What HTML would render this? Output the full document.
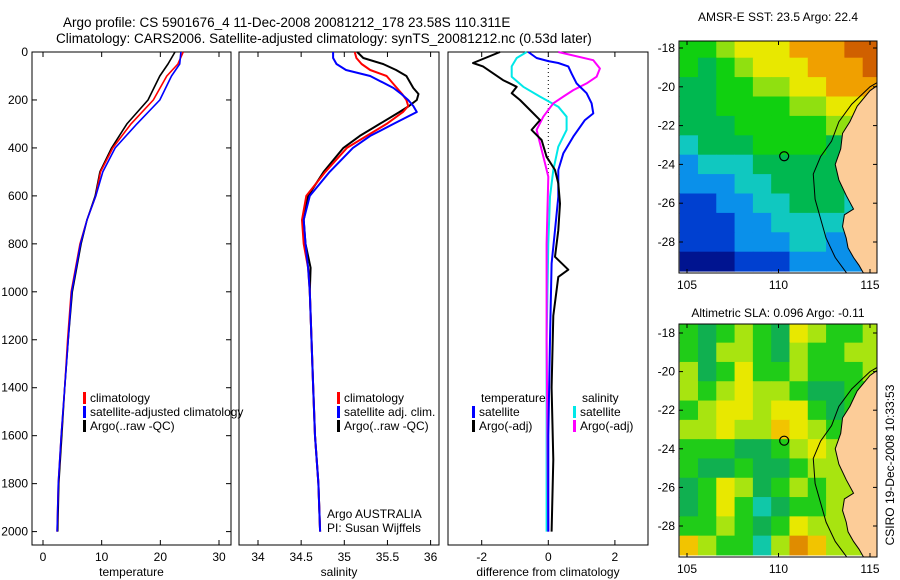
<!DOCTYPE html>
<html><head><meta charset="utf-8"><style>
body{margin:0;background:#fff;}
svg{display:block;font-family:"Liberation Sans","DejaVu Sans",sans-serif;}
text{fill:#000;}
</style></head><body>
<svg id="fig" width="900" height="580" viewBox="0 0 900 580" xmlns="http://www.w3.org/2000/svg">
<text x="63" y="27" font-size="13.5">Argo profile: CS 5901676_4 11-Dec-2008 20081212_178 23.58S 110.311E</text>
<text x="56" y="43" font-size="13.5">Climatology: CARS2006. Satellite-adjusted climatology: synTS_20081212.nc (0.53d later)</text>
<text x="778" y="21" font-size="12" text-anchor="middle">AMSR-E SST: 23.5 Argo: 22.4</text>
<text x="778" y="317" font-size="12" text-anchor="middle">Altimetric SLA: 0.096 Argo: -0.11</text>
<text transform="translate(894,465) rotate(-90)" font-size="12" text-anchor="middle">CSIRO 19-Dec-2008 10:33:53</text>
<g id="plots"></g>
</svg>
<script>
// ---- data ----
const tDepth=[0,50,100,200,300,400,500,600,700,800,1000,1200,1400,1600,1800,2000];
const tArgo=[22.5,21.3,19.9,17.9,14.3,11.7,9.7,8.9,7.5,6.5,5.0,4.3,3.7,3.2,2.7,2.5];
const tClim=[23.9,23.0,21.1,18.8,15.0,11.9,9.8,9.0,7.5,6.3,4.8,4.2,3.7,3.1,2.6,2.4];
const tSat=[23.5,23.3,21.9,19.9,16.0,12.3,10.2,9.0,7.5,6.4,4.9,4.3,3.7,3.1,2.6,2.4];
const sDepth=[0,25,50,75,100,150,175,200,225,250,300,350,400,500,600,700,800,900,1000,1400,1600,1800,2000];
const sArgo=[35.15,35.22,35.45,35.6,35.72,35.80,35.86,35.84,35.75,35.64,35.41,35.18,34.99,34.76,34.58,34.53,34.55,34.61,34.6,34.64,34.66,34.70,34.72];
const sClim=[35.12,35.14,35.2,35.3,35.49,35.61,35.67,35.72,35.74,35.68,35.49,35.26,35.03,34.78,34.56,34.51,34.53,34.58,34.6,34.64,34.66,34.70,34.72];
const sSat=[34.87,34.87,34.91,35.02,35.30,35.57,35.66,35.74,35.80,35.84,35.57,35.30,35.10,34.83,34.60,34.53,34.55,34.58,34.6,34.64,34.66,34.70,34.72];
const dBlackDepth=[0,46,60,117,145,172,200,242,284,325,367,437,492,548,632,743,854,908,938,1100,1400,1700,2000];
const dBlack=[-1.45,-2.26,-1.96,-1.36,-0.95,-1.1,-0.85,-0.55,-0.25,-0.5,-0.2,-0.05,0.2,0.3,0.35,0.3,0.2,0.6,0.3,0.15,0.1,0.15,0.1];
const dBlueDepth=[0,25,38,46,60,90,131,172,214,256,284,353,423,492,604,743,882,1200,1600,2000];
const dBlue=[-0.6,-0.35,0,0.3,0.6,0.7,0.85,1.15,1.3,1.35,1.1,0.75,0.45,0.3,0.3,0.2,0.1,0.05,0.0,0.0];
const dCyanDepth=[0,25,60,103,145,186,228,270,325,395,492,604,800,1200,2000];
const dCyan=[-0.65,-0.95,-1.1,-1.1,-0.75,-0.25,0.3,0.55,0.55,0.3,0.15,0.05,0,-0.05,-0.05];
const dMagDepth=[0,34,69,103,131,159,186,214,270,325,381,464,520,800,1200,2000];
const dMag=[0.3,1.35,1.55,1.45,1.15,0.75,0.45,0.15,-0.15,-0.35,-0.25,-0.1,0,-0.05,-0.05,0.0];
const depthTicks=[0,200,400,600,800,1000,1200,1400,1600,1800,2000];
const tempTicks=[0,10,20,30];
const salTicks=[34,34.5,35,35.5,36];
const diffTicks=[-2,0,2];
const latTicks=[-18,-20,-22,-24,-26,-28];
const lonTicks=[105,110,115];
const sstGrid=[
[5,5,6,7,7,7,8,8,8,9,9],[5,4,5,6,7,7,7,8,8,8,9],[4,4,5,5,6,6,7,7,8,8,8],[4,4,5,5,5,5,6,6,7,7,7],
[4,4,4,5,5,5,5,5,6,6,6],[3,4,4,4,5,5,5,5,4,4,4],[2,3,3,3,4,4,4,4,4,4,4],[2,2,2,3,3,4,4,4,4,4,4],
[1,1,2,2,3,3,4,4,4,3,3],[1,1,1,2,2,3,3,3,3,3,3],[1,1,1,2,2,2,3,3,2,2,2],[0,0,0,1,1,1,2,2,2,2,2]];
const slaGrid=[
[2,1,2,3,2,1,4,3,2,2,3],[2,1,3,3,2,1,3,2,2,3,3],[3,1,2,4,2,2,3,2,2,2,3],[3,2,3,4,3,3,2,1,1,2,2],
[2,3,4,4,3,4,4,2,1,2,2],[3,3,4,3,3,5,4,3,2,2,2],[2,2,2,1,1,2,3,4,3,3,3],[2,1,1,2,1,1,2,3,3,3,3],
[1,2,4,3,1,2,3,2,3,3,3],[1,2,4,2,0,1,2,2,3,3,3],[2,2,3,2,1,2,4,3,3,3,3],[5,3,2,2,0,3,6,5,3,3,3]];
const sstColors=["#001490","#0040d0","#0a90ea","#10c8c0","#00b850","#10d010","#90e010","#e8e800","#f0a000","#d06000"];
const slaColors=["#10c8a8","#10b050","#20cc18","#a8e410","#e8e800","#f2c400","#e08c00"];
const coastLon=[115.9,115.0,114.3,113.9,113.5,113.4,113.1,113.3,113.7,114.1,113.6,113.5,113.7,113.8,114.1,114.4,114.7,115.9];
const coastLat=[-19.6,-20.2,-21.0,-21.8,-22.4,-23.2,-24.0,-24.8,-25.6,-26.3,-26.6,-27.2,-27.8,-28.3,-28.8,-29.2,-29.7,-29.7];
const isoLon=[115.9,115.0,114.0,113.3,112.9,112.3,111.9,112.0,112.3,112.6,113.1,113.8];
const isoLat=[-19.5,-20.0,-20.9,-21.8,-22.8,-23.6,-24.5,-25.8,-26.8,-27.8,-28.8,-29.7];
const profLon=110.31, profLat=-23.58;

const NS="http://www.w3.org/2000/svg";
const G=document.getElementById('plots');
function mk(tag,attrs,parent){const e=document.createElementNS(NS,tag);for(const k in attrs)e.setAttribute(k,attrs[k]);(parent||G).appendChild(e);return e;}
const dY=d=>52+d*0.2398;
const PY0=52,PY1=545;
function panel(x0,x1,xs,ticks,fmt,name,xlab){
  const g=mk('g',{});
  
  
  const r=mk('rect',{x:x0,y:PY0,width:x1-x0,height:PY1-PY0,fill:'none',stroke:'#000','stroke-width':1},g);
  
  
  ticks.forEach(v=>{const x=xs(v);
    mk('line',{x1:x,x2:x,y1:PY0,y2:PY0+5,stroke:'#000'},g);
    mk('line',{x1:x,x2:x,y1:PY1,y2:PY1-5,stroke:'#000'},g);
    const t=mk('text',{x:x,y:561,'font-size':12,'text-anchor':'middle'},g);t.textContent=fmt(v);
    
    });
  const l=mk('text',{x:(x0+x1)/2,y:576,'font-size':12,'text-anchor':'middle'},g);l.textContent=xlab;
  
  
  return g;
}
function line(g,xs,vals,depths,color,name,w){
  const pts=vals.map((v,i)=>xs(v).toFixed(1)+','+dY(depths[i]).toFixed(1)).join(' ');
  const p=mk('polyline',{points:pts,fill:'none',stroke:color,'stroke-width':w||2,'stroke-linejoin':'round'},g);
  
  
}
function legend(g,x,y,color,label){
  mk('rect',{x:x,y:y-10,width:3,height:12,fill:color},g);
  const t=mk('text',{x:x+7,y:y,'font-size':12},g);t.textContent=label;
  
  
}
// Panel 1 temperature
const xT=v=>43+v*5.867;
const g1=panel(32,231,xT,tempTicks,v=>v,'temperature-panel','temperature');
depthTicks.forEach(d=>{const y=dY(d);
  mk('line',{x1:32,x2:37,y1:y,y2:y,stroke:'#000'},g1);
  mk('line',{x1:231,x2:226,y1:y,y2:y,stroke:'#000'},g1);
  const t=mk('text',{x:28,y:y+4,'font-size':12,'text-anchor':'end'},g1);t.textContent=d;
  
  });
line(g1,xT,tArgo,tDepth,'#000','temp-argo-line',1.6);
line(g1,xT,tClim,tDepth,'#f00','temp-climatology-line',1.6);
line(g1,xT,tSat,tDepth,'#00f','temp-satellite-line',1.6);
legend(g1,83,402,'#f00','climatology');
legend(g1,83,416,'#00f','satellite-adjusted climatology');
legend(g1,83,430,'#000','Argo(..raw -QC)');
// Panel 2 salinity
const xS=v=>258+(v-34)*86.3;
const g2=panel(239,439,xS,salTicks,v=>v,'salinity-panel','salinity');
line(g2,xS,sArgo,sDepth,'#000','sal-argo-line');
line(g2,xS,sClim,sDepth,'#f00','sal-climatology-line');
line(g2,xS,sSat,sDepth,'#00f','sal-satellite-line');
legend(g2,337,402,'#f00','climatology');
legend(g2,337,416,'#00f','satellite adj. clim.');
legend(g2,337,430,'#000','Argo(..raw -QC)');
const a1=mk('text',{x:327,y:518,'font-size':12},g2);a1.textContent='Argo AUSTRALIA';


const a2=mk('text',{x:327,y:532,'font-size':12},g2);a2.textContent='PI: Susan Wijffels';


// Panel 3 differences
const xD=v=>548.3+v*33.3;
const g3=panel(448,648,xD,diffTicks,v=>v,'difference-panel','difference from climatology');
mk('line',{x1:xD(0),x2:xD(0),y1:PY0,y2:dY(550),stroke:'#000','stroke-dasharray':'1,3'},g3);
line(g3,xD,dCyan,dCyanDepth,'#00e8e8','diff-sal-satellite-line');
line(g3,xD,dMag,dMagDepth,'#f0f','diff-sal-argo-line');
line(g3,xD,dBlue,dBlueDepth,'#00f','diff-temp-satellite-line');
line(g3,xD,dBlack,dBlackDepth,'#000','diff-temp-argo-line');
const th=mk('text',{x:481,y:402,'font-size':12},g3);th.textContent='temperature';


const sh=mk('text',{x:582,y:402,'font-size':12},g3);sh.textContent='salinity';


legend(g3,472,416,'#00f','satellite');
legend(g3,472,430,'#000','Argo(-adj)');
legend(g3,573,416,'#00e8e8','satellite');
legend(g3,573,430,'#f0f','Argo(-adj)');
// Maps
function map(top,bottom,latTop,pxLat,grid,cols,name){
  const x0=679,x1=877;
  const lonX=lo=>687+(lo-105)*18.3;
  const latY=la=>latTop+(-18-la)*pxLat;
  const g=mk('g',{});
  
  
  const cp='clip'+top;
  const cl=mk('clipPath',{id:cp},g);mk('rect',{x:x0,y:top,width:x1-x0,height:bottom-top},cl);
  const inner=mk('g',{'clip-path':'url(#'+cp+')'},g);
  grid.forEach((row,r)=>row.forEach((v,c)=>{
    const lo=104.6+c, la=-17.5-r;
    const cell=mk('rect',{x:lonX(lo),y:latY(la),width:18.3+0.5,height:pxLat+0.5,fill:cols[v]},inner);
    
    
  }));
  const land=mk('polygon',{points:coastLon.map((lo,i)=>lonX(lo)+','+latY(coastLat[i])).join(' '),fill:'#fccc98',stroke:'#000','stroke-width':1},inner);
  
  
  const iso=mk('polyline',{points:isoLon.map((lo,i)=>lonX(lo)+','+latY(isoLat[i])).join(' '),fill:'none',stroke:'#000','stroke-width':1},inner);
  
  
  const c=mk('circle',{cx:lonX(profLon),cy:latY(profLat),r:4.5,fill:'none',stroke:'#000','stroke-width':1.2},g);
  
  
  mk('rect',{x:x0,y:top,width:x1-x0,height:bottom-top,fill:'none',stroke:'#000'},g);
  latTicks.forEach(la=>{const y=latY(la);
    mk('line',{x1:x0,x2:x0+4,y1:y,y2:y,stroke:'#000'},g);
    mk('line',{x1:x1,x2:x1-4,y1:y,y2:y,stroke:'#000'},g);
    const t=mk('text',{x:675,y:y+4,'font-size':12,'text-anchor':'end'},g);t.textContent=la;
    
    });
  lonTicks.forEach(lo=>{const x=lonX(lo);
    mk('line',{x1:x,x2:x,y1:bottom,y2:bottom-4,stroke:'#000'},g);
    mk('line',{x1:x,x2:x,y1:top,y2:top+4,stroke:'#000'},g);
    const t=mk('text',{x:x,y:bottom+16,'font-size':12,'text-anchor':'middle'},g);t.textContent=lo;
    
    });
}
map(41,273,48,19.4,sstGrid,sstColors,'sst-map');
map(324,557,333,19.3,slaGrid,slaColors,'sla-map');
</script>
</body></html>
